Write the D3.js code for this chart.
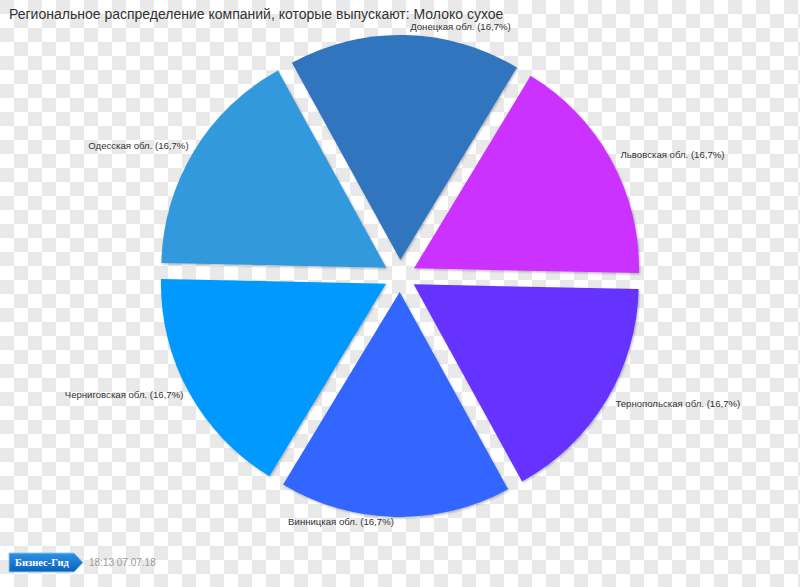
<!DOCTYPE html>
<html><head><meta charset="utf-8">
<script src="https://cdn.jsdelivr.net/npm/d3@7/dist/d3.min.js"></script>
<style>body{margin:0;background:#fff} svg{display:block}</style>
</head><body>
<script>
const title = "Региональное распределение компаний, которые выпускают: Молоко сухое";
const regions = ["Донецкая обл.","Львовская обл.","Тернопольская обл.","Винницкая обл.","Черниговская обл.","Одесская обл."];
const shares = [16.7,16.7,16.7,16.7,16.7,16.7];
const colors = ["#3075bf","#cc33ff","#6633ff","#3366ff","#0099ff","#3399dd"];
const brand = "Бизнес-Гид";
const stamp = "18:13 07.07.18";

const W = 800, H = 587;
const svg = d3.select("body").append("svg").attr("width", W).attr("height", H);
const defs = svg.append("defs");

// transparent-style checkerboard background
svg.append("rect").attr("width", W).attr("height", H).attr("fill", "#ffffff");
const cell = 14;
const cells = [];
for (let r = 0; r * cell < H; r++) for (let c = 0; c * cell < W; c++) if ((r + c) % 2 === 0) cells.push([c, r]);
svg.append("g").selectAll("rect").data(cells).join("rect")
  .attr("x", d => d[0] * cell).attr("y", d => d[1] * cell)
  .attr("width", cell).attr("height", cell).attr("fill", "#e9e9e9");

const f = defs.append("filter").attr("id", "sh").attr("x", "-10%").attr("y", "-10%")
  .attr("width", "130%").attr("height", "130%");
f.append("feDropShadow").attr("dx", 1).attr("dy", 1.2).attr("stdDeviation", 1.2)
  .attr("flood-color", "#000").attr("flood-opacity", 0.28);

const lg = defs.append("linearGradient").attr("id", "lg").attr("x1", 0).attr("y1", 0).attr("x2", 0).attr("y2", 1);
lg.append("stop").attr("offset", "0").attr("stop-color", "#2b92e6");
lg.append("stop").attr("offset", "1").attr("stop-color", "#0a62b6");

// title
svg.append("text").attr("x", 9).attr("y", 19)
  .attr("font-family", "'Liberation Sans', Arial, sans-serif").attr("font-size", 14)
  .attr("fill", "#333").text(title);

// pie
const rot = 1.2 * Math.PI / 180;
const pie = d3.pie().sort(null).value(d => d)
  .startAngle(-Math.PI / 6 + rot).endAngle(2 * Math.PI - Math.PI / 6 + rot);
const arcs = pie(shares);
const R = 225, explode = 16, cx = 400, cy = 276;
const arc = d3.arc().innerRadius(0).outerRadius(R);
const g = svg.append("g").attr("transform", `translate(${cx},${cy})`);
const fmt = v => v.toFixed(1).replace(".", ",");

arcs.forEach((a, i) => {
  const mid = (a.startAngle + a.endAngle) / 2;
  const ox = Math.sin(mid) * explode, oy = -Math.cos(mid) * explode;
  const sg = g.append("g").attr("transform", `translate(${ox},${oy})`);
  sg.append("path").attr("d", arc(a)).attr("fill", colors[i]).attr("filter", "url(#sh)");
  const lr = R + 5;
  const lx = Math.sin(mid) * lr, ly = -Math.cos(mid) * lr;
  const right = Math.sin(mid) > 0;
  sg.append("text")
    .attr("x", lx + (right ? 5 : -1)).attr("y", ly + (Math.cos(mid) > 0 ? -3 : 0))
    .attr("dy", "0.35em")
    .attr("text-anchor", right ? "start" : "end")
    .attr("font-family", "'Liberation Sans', Arial, sans-serif").attr("font-size", 9.6)
    .attr("fill", "#333")
    .text(`${regions[i]} (${fmt(shares[i])}%)`);
});

// footer logo
const logo = svg.append("g");
logo.append("path").attr("d", "M9,553 H74 L83,562.5 L74,572 H9 Z")
  .attr("fill", "url(#lg)").attr("stroke", "#8cc8f2").attr("stroke-width", 1);
logo.append("text").attr("x", 15).attr("y", 566)
  .attr("font-family", "'Liberation Serif', 'DejaVu Serif', serif").attr("font-weight", "bold")
  .attr("font-size", 10.5).attr("fill", "#fff").text(brand);
svg.append("text").attr("x", 89).attr("y", 566)
  .attr("font-family", "'Liberation Sans', Arial, sans-serif").attr("font-size", 10)
  .attr("fill", "#9a9a9a").text(stamp);
</script>
</body></html>
